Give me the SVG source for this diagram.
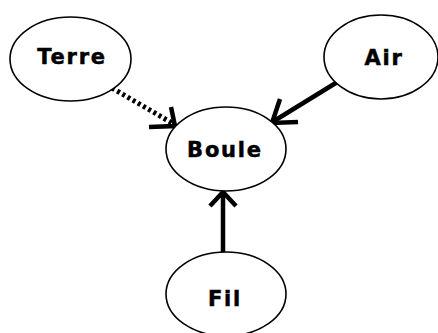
<svg xmlns="http://www.w3.org/2000/svg" width="438" height="333" viewBox="0 0 438 333">
<style>
.node ellipse{fill:#fff;stroke:#000;stroke-width:1.6}
.node text{font-family:"DejaVu Sans",sans-serif;font-weight:bold;font-size:21px;letter-spacing:1.8px;text-anchor:middle;fill:#000;stroke:#000;stroke-width:0.5}
.edge{stroke:#000;fill:none;stroke-width:4.5;stroke-linecap:butt}
.dash{stroke-dasharray:3 3;stroke-width:5}
</style>
<rect width="438" height="333" fill="#fff"/>
<g id="connectors">
<g id="e-terre-boule"><line class="edge dash" x1="112" y1="88" x2="172" y2="123"/><polyline class="edge" points="149,127 175,126 171,107"/></g>
<g id="e-air-boule"><line class="edge" x1="339" y1="81" x2="274" y2="121"/><polyline class="edge" points="280,99 272,123 298,122"/></g>
<g id="e-fil-boule"><line class="edge" x1="223" y1="252" x2="223" y2="193"/><polyline class="edge" points="210,206 223,192 236,206"/></g>
</g>
<g id="terre" class="node"><ellipse cx="70.5" cy="59" rx="60.5" ry="42"/><text x="72" y="64">Terre</text></g>
<g id="air" class="node"><ellipse cx="381" cy="57" rx="57" ry="42"/><text x="384" y="65">Air</text></g>
<g id="boule" class="node"><ellipse cx="226" cy="149" rx="60" ry="42"/><text x="225" y="157">Boule</text></g>
<g id="fil" class="node"><ellipse cx="226" cy="294" rx="60" ry="42"/><text x="225" y="306">Fil</text></g>
</svg>
